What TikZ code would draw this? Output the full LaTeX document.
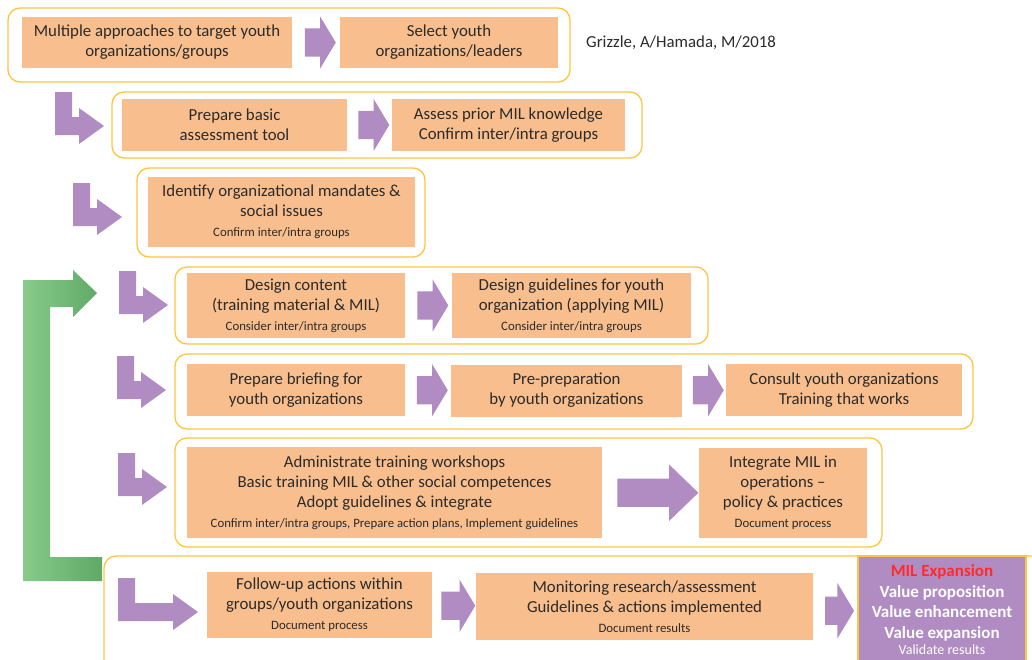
\documentclass[tikz,border=0pt]{standalone}
\usepackage{fontspec}
\setmainfont{Carlito}
\usetikzlibrary{shapes.arrows,calc}

\definecolor{boxorange}{HTML}{F8BE8D}
\definecolor{framegold}{HTML}{FFC53D}
\definecolor{arrowpurple}{HTML}{B08CC3}
\definecolor{textgray}{HTML}{2B2B2B}
\definecolor{greenlight}{HTML}{88CB8B}
\definecolor{greendark}{HTML}{5FA866}
\definecolor{expred}{HTML}{FF2B2B}

\newcommand{\note}[1]{{\fontsize{12.8}{14}\selectfont #1}}

\tikzset{
  stepbox/.style={fill=boxorange, align=center, inner sep=0pt},
  rowframe/.style={draw=framegold, line width=1.3pt, rounded corners=12pt},
  blockarr/.style={single arrow, fill=arrowpurple, inner xsep=0pt, inner ysep=14pt, minimum height=31,
    single arrow head extend=12, single arrow tip angle=118},
  bentarr/.pic={\fill[arrowpurple] (0,0) -- (17,0) -- (17,25) -- (#1,25) -- (#1,16) -- ({#1+25},34)
    -- (#1,52) -- (#1,43) -- (0,43) -- cycle;}
}

\begin{document}
\begin{tikzpicture}[x=1pt, y=-1pt, font=\fontsize{16.8}{20}\selectfont, text=textgray]
\useasboundingbox (0,0) rectangle (1032,659);

% frames round each row
\draw[rowframe] (8,8) rectangle (570,82);
\draw[rowframe] (112,92) rectangle (642,158);
\draw[rowframe] (137,168) rectangle (425,257);
\draw[rowframe] (175,267) rectangle (708,344);
\draw[rowframe] (175,354) rectangle (973,429);
\draw[rowframe] (175,438) rectangle (882,547);
\draw[rowframe] (104,556) rectangle (1045,675);

% loop back
\shade[left color=greenlight, right color=greendark] (102,557) -- (50,557) -- (50,307) -- (73,307)
  -- (73,317) -- (97,293) -- (73,270) -- (73,280) -- (23,280) -- (23,581) -- (102,581) -- cycle;

\pic at (55,92) {bentarr=24};
\pic at (73,183) {bentarr=24};
\pic at (119,271) {bentarr=24};
\pic at (117,356) {bentarr=24};
\pic at (118,453) {bentarr=24};
\pic at (118,578) {bentarr=55};

% row 1
\node[stepbox, minimum width=270, minimum height=51] (m11) at (157,42.5) {Multiple approaches to target youth\\organizations/groups};
\node[stepbox, minimum width=218, minimum height=51] (m12) at (449,42.5) {Select youth\\organizations/leaders};
\node[blockarr] (a11) at ($(m11.east)!.5!(m12.west)$) {};
\node[anchor=west, inner sep=0pt] (credit) at (586,43) {Grizzle, A/Hamada, M/2018};

% row 2
\node[stepbox, minimum width=225, minimum height=52] (m21) at (234.5,125) {Prepare basic\\assessment tool};
\node[stepbox, minimum width=233, minimum height=52] (m22) at (508.5,125) {Assess prior MIL knowledge\\Confirm inter/intra groups};
\node[blockarr] (a21) at ($(m21.east)!.5!(m22.west)$) {};

% row 3
\node[stepbox, minimum width=267, minimum height=70] (m31) at (281.5,212) {Identify organizational mandates \&\\social issues\\\note{Confirm inter/intra groups}};

% row 4
\node[stepbox, minimum width=218, minimum height=65] (m41) at (296,305.5) {Design content\\(training material \& MIL)\\\note{Consider inter/intra groups}};
\node[stepbox, minimum width=239, minimum height=65] (m42) at (571.5,305.5) {Design guidelines for youth\\organization (applying MIL)\\\note{Consider inter/intra groups}};
\node[blockarr] (a41) at ($(m41.east)!.5!(m42.west)$) {};

% row 5
\node[stepbox, minimum width=218, minimum height=52] (m51) at (296,390) {Prepare briefing for\\youth organizations};
\node[stepbox, minimum width=231, minimum height=52] (m52) at (566.5,390.5) {Pre-preparation\\by youth organizations};
\node[stepbox, minimum width=236, minimum height=52] (m53) at (844,390) {Consult youth organizations\\Training that works};
\node[blockarr] (a51) at ($(m51.east)!.5!(m52.west)$) {};
\node[blockarr] (a52) at ($(m52.east)!.5!(m53.west)$) {};

% row 6
\node[stepbox, minimum width=415, minimum height=91] (m61) at (394.5,492.5) {Administrate training workshops\\Basic training MIL \& other social competences\\Adopt guidelines \& integrate\\\note{Confirm inter/intra groups, Prepare action plans, Implement guidelines}};
\node[stepbox, minimum width=168, minimum height=90] (m62) at (783,493) {Integrate MIL in\\operations --\\policy \& practices\\\note{Document process}};
\node[blockarr, minimum height=81, single arrow head extend=14, single arrow tip angle=88] (a61) at ($(m61.east)!.5!(m62.west)$) {};

% row 7
\node[stepbox, minimum width=225, minimum height=66] (m71) at (319.5,605) {Follow-up actions within\\groups/youth organizations\\\note{Document process}};
\node[stepbox, minimum width=337, minimum height=67] (m72) at (644.5,606.5) {Monitoring research/assessment\\Guidelines \& actions implemented\\\note{Document results}};
\node[fill=arrowpurple, draw=framegold, line width=1.3pt, minimum width=168, minimum height=118] (m73) at (942,615) {};
\node[align=center, text=white, font=\fontsize{17}{20.5}\selectfont\bfseries, anchor=north, inner sep=0pt] (exptext) at (942,564.5)
  {\textcolor{expred}{MIL Expansion}\\Value proposition\\Value enhancement\\Value expansion\\[-4pt]{\mdseries\fontsize{14}{16}\selectfont Validate results}};
\node[blockarr, minimum height=34] (a71) at ($(m71.east)!.5!(m72.west)$) {};
\node[blockarr, minimum height=29, single arrow head extend=13.5] (a72) at ($(m72.east)!.5!(m73.west)$) {};
\end{tikzpicture}
\end{document}
